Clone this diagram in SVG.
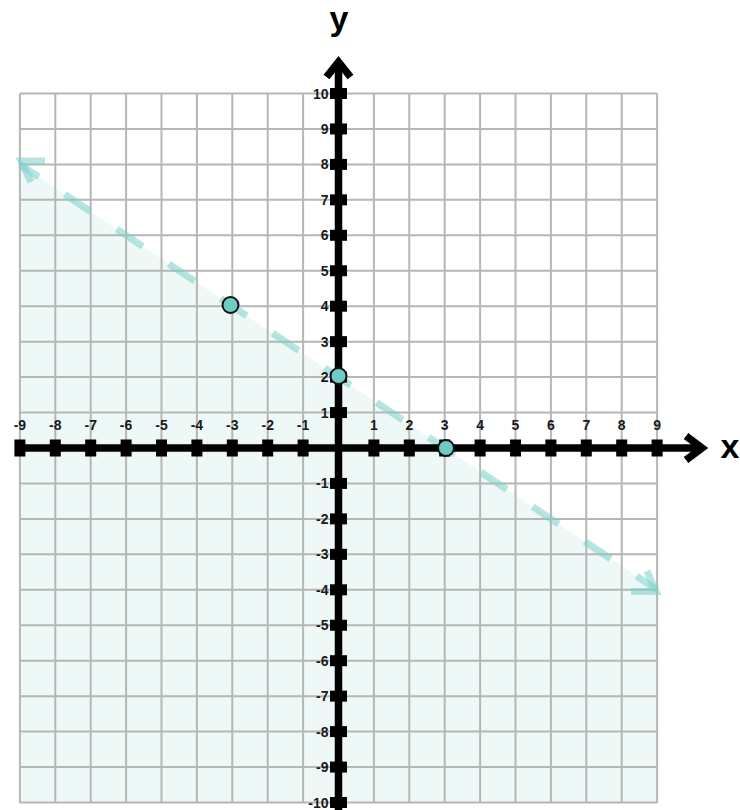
<svg xmlns="http://www.w3.org/2000/svg" width="740" height="810" viewBox="0 0 740 810">
<style>
.grid line{stroke:#b6b6b6;stroke-width:2}
.tk{fill:#000}
.xl{font-family:"Liberation Sans",Arial,sans-serif;font-weight:bold;font-size:14px;fill:#1a1a1a;text-anchor:middle}
.yl{font-family:"Liberation Sans",Arial,sans-serif;font-weight:bold;font-size:14px;fill:#1a1a1a;text-anchor:end}
.ax{font-family:"Liberation Sans",Arial,sans-serif;font-weight:bold;font-size:34px;fill:#000;text-anchor:middle}
.pt{fill:#70cbc4;stroke:#111;stroke-width:2}
.bound{fill:none;stroke:#7ccfc8;stroke-opacity:0.55;stroke-width:7}
</style>
<rect width="740" height="810" fill="#fff"/>
<polygon id="shade" points="19.9,164.4 657.1,589.8 657.1,803 19.9,803" fill="#eef8f7"/>
<g class="grid" id="grid">
<line x1="19.9" y1="93.5" x2="19.9" y2="803"/>
<line x1="55.3" y1="93.5" x2="55.3" y2="803"/>
<line x1="90.7" y1="93.5" x2="90.7" y2="803"/>
<line x1="126.1" y1="93.5" x2="126.1" y2="803"/>
<line x1="161.5" y1="93.5" x2="161.5" y2="803"/>
<line x1="196.9" y1="93.5" x2="196.9" y2="803"/>
<line x1="232.3" y1="93.5" x2="232.3" y2="803"/>
<line x1="267.7" y1="93.5" x2="267.7" y2="803"/>
<line x1="303.1" y1="93.5" x2="303.1" y2="803"/>
<line x1="373.9" y1="93.5" x2="373.9" y2="803"/>
<line x1="409.3" y1="93.5" x2="409.3" y2="803"/>
<line x1="444.7" y1="93.5" x2="444.7" y2="803"/>
<line x1="480.1" y1="93.5" x2="480.1" y2="803"/>
<line x1="515.5" y1="93.5" x2="515.5" y2="803"/>
<line x1="550.9" y1="93.5" x2="550.9" y2="803"/>
<line x1="586.3" y1="93.5" x2="586.3" y2="803"/>
<line x1="621.7" y1="93.5" x2="621.7" y2="803"/>
<line x1="657.1" y1="93.5" x2="657.1" y2="803"/>
<line x1="19.9" y1="93.5" x2="657.1" y2="93.5"/>
<line x1="19.9" y1="128.95" x2="657.1" y2="128.95"/>
<line x1="19.9" y1="164.4" x2="657.1" y2="164.4"/>
<line x1="19.9" y1="199.85" x2="657.1" y2="199.85"/>
<line x1="19.9" y1="235.3" x2="657.1" y2="235.3"/>
<line x1="19.9" y1="270.75" x2="657.1" y2="270.75"/>
<line x1="19.9" y1="306.2" x2="657.1" y2="306.2"/>
<line x1="19.9" y1="341.65" x2="657.1" y2="341.65"/>
<line x1="19.9" y1="377.1" x2="657.1" y2="377.1"/>
<line x1="19.9" y1="412.55" x2="657.1" y2="412.55"/>
<line x1="19.9" y1="483.45" x2="657.1" y2="483.45"/>
<line x1="19.9" y1="518.9" x2="657.1" y2="518.9"/>
<line x1="19.9" y1="554.35" x2="657.1" y2="554.35"/>
<line x1="19.9" y1="589.8" x2="657.1" y2="589.8"/>
<line x1="19.9" y1="625.25" x2="657.1" y2="625.25"/>
<line x1="19.9" y1="660.7" x2="657.1" y2="660.7"/>
<line x1="19.9" y1="696.15" x2="657.1" y2="696.15"/>
<line x1="19.9" y1="731.6" x2="657.1" y2="731.6"/>
<line x1="19.9" y1="767.05" x2="657.1" y2="767.05"/>
<line x1="19.9" y1="802.5" x2="657.1" y2="802.5"/>
</g>
<g id="connectors">
<line class="bound" x1="19.9" y1="164.4" x2="657.1" y2="589.8" stroke-dasharray="31.25 31.25" stroke-dashoffset="8.5"/>
<polyline class="bound" points="45,161 21,161 31,182"/>
<polyline class="bound" points="631,591.5 656,591.5 647,571"/>
</g>
<g id="axes">
<line x1="15" y1="448" x2="702" y2="448" stroke="#000" stroke-width="7.5"/>
<polyline points="686,436 702,448 686,460" fill="none" stroke="#000" stroke-width="7.5" stroke-miterlimit="10"/>
<line x1="338.5" y1="64" x2="338.5" y2="810" stroke="#000" stroke-width="7.5"/>
<polyline points="326.5,77 338.5,62 350.5,77" fill="none" stroke="#000" stroke-width="7.5" stroke-miterlimit="10"/>
<text class="ax" x="730" y="458">x</text>
<text class="ax" x="339" y="30">y</text>
</g>
<g id="xticks" class="tk">
<rect x="14.4" y="439.5" width="11" height="17"/>
<rect x="49.8" y="439.5" width="11" height="17"/>
<rect x="85.2" y="439.5" width="11" height="17"/>
<rect x="120.6" y="439.5" width="11" height="17"/>
<rect x="156" y="439.5" width="11" height="17"/>
<rect x="191.4" y="439.5" width="11" height="17"/>
<rect x="226.8" y="439.5" width="11" height="17"/>
<rect x="262.2" y="439.5" width="11" height="17"/>
<rect x="297.6" y="439.5" width="11" height="17"/>
<rect x="368.4" y="439.5" width="11" height="17"/>
<rect x="403.8" y="439.5" width="11" height="17"/>
<rect x="439.2" y="439.5" width="11" height="17"/>
<rect x="474.6" y="439.5" width="11" height="17"/>
<rect x="510" y="439.5" width="11" height="17"/>
<rect x="545.4" y="439.5" width="11" height="17"/>
<rect x="580.8" y="439.5" width="11" height="17"/>
<rect x="616.2" y="439.5" width="11" height="17"/>
<rect x="651.6" y="439.5" width="11" height="17"/>
</g>
<g id="yticks" class="tk">
<rect x="330" y="88" width="17" height="11"/>
<rect x="330" y="123.45" width="17" height="11"/>
<rect x="330" y="158.9" width="17" height="11"/>
<rect x="330" y="194.35" width="17" height="11"/>
<rect x="330" y="229.8" width="17" height="11"/>
<rect x="330" y="265.25" width="17" height="11"/>
<rect x="330" y="300.7" width="17" height="11"/>
<rect x="330" y="336.15" width="17" height="11"/>
<rect x="330" y="371.6" width="17" height="11"/>
<rect x="330" y="407.05" width="17" height="11"/>
<rect x="330" y="477.95" width="17" height="11"/>
<rect x="330" y="513.4" width="17" height="11"/>
<rect x="330" y="548.85" width="17" height="11"/>
<rect x="330" y="584.3" width="17" height="11"/>
<rect x="330" y="619.75" width="17" height="11"/>
<rect x="330" y="655.2" width="17" height="11"/>
<rect x="330" y="690.65" width="17" height="11"/>
<rect x="330" y="726.1" width="17" height="11"/>
<rect x="330" y="761.55" width="17" height="11"/>
<rect x="330" y="797" width="17" height="11"/>
</g>
<g id="xlabels">
<text class="xl" x="19.9" y="430">-9</text>
<text class="xl" x="55.3" y="430">-8</text>
<text class="xl" x="90.7" y="430">-7</text>
<text class="xl" x="126.1" y="430">-6</text>
<text class="xl" x="161.5" y="430">-5</text>
<text class="xl" x="196.9" y="430">-4</text>
<text class="xl" x="232.3" y="430">-3</text>
<text class="xl" x="267.7" y="430">-2</text>
<text class="xl" x="303.1" y="430">-1</text>
<text class="xl" x="373.9" y="430">1</text>
<text class="xl" x="409.3" y="430">2</text>
<text class="xl" x="444.7" y="430">3</text>
<text class="xl" x="480.1" y="430">4</text>
<text class="xl" x="515.5" y="430">5</text>
<text class="xl" x="550.9" y="430">6</text>
<text class="xl" x="586.3" y="430">7</text>
<text class="xl" x="621.7" y="430">8</text>
<text class="xl" x="657.1" y="430">9</text>
</g>
<g id="ylabels">
<text class="yl" x="328.5" y="98.5">10</text>
<text class="yl" x="328.5" y="133.95">9</text>
<text class="yl" x="328.5" y="169.4">8</text>
<text class="yl" x="328.5" y="204.85">7</text>
<text class="yl" x="328.5" y="240.3">6</text>
<text class="yl" x="328.5" y="275.75">5</text>
<text class="yl" x="328.5" y="311.2">4</text>
<text class="yl" x="328.5" y="346.65">3</text>
<text class="yl" x="328.5" y="382.1">2</text>
<text class="yl" x="328.5" y="417.55">1</text>
<text class="yl" x="328.5" y="488.45">-1</text>
<text class="yl" x="328.5" y="523.9">-2</text>
<text class="yl" x="328.5" y="559.35">-3</text>
<text class="yl" x="328.5" y="594.8">-4</text>
<text class="yl" x="328.5" y="630.25">-5</text>
<text class="yl" x="328.5" y="665.7">-6</text>
<text class="yl" x="328.5" y="701.15">-7</text>
<text class="yl" x="328.5" y="736.6">-8</text>
<text class="yl" x="328.5" y="772.05">-9</text>
<text class="yl" x="328.5" y="807.5">-10</text>
</g>
<g id="point-a"><circle class="pt" cx="230.5" cy="305" r="8"/></g>
<g id="point-b"><circle class="pt" cx="338.5" cy="376" r="8"/></g>
<g id="point-c"><circle class="pt" cx="446" cy="448" r="8"/></g>
</svg>
